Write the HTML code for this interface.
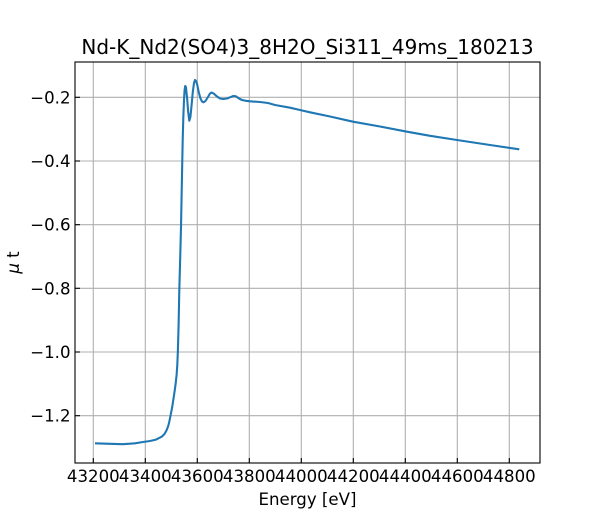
<!DOCTYPE html>
<html>
<head>
<meta charset="utf-8">
<style>
  html, body { margin:0; padding:0; background:#fff; }
  svg { display:block; }
  text { font-family: "DejaVu Sans", "Liberation Sans", sans-serif; fill:#000; }
</style>
</head>
<body>
<svg width="600" height="520" viewBox="0 0 600 520" xmlns="http://www.w3.org/2000/svg">
  <rect x="0" y="0" width="600" height="520" fill="#fff"/>
  <!-- grid -->
  <g stroke="#b0b0b0" stroke-width="1.1" fill="none">
    <line x1="93.3" y1="62" x2="93.3" y2="463"/>
    <line x1="145.3" y1="62" x2="145.3" y2="463"/>
    <line x1="197.3" y1="62" x2="197.3" y2="463"/>
    <line x1="249.3" y1="62" x2="249.3" y2="463"/>
    <line x1="301.3" y1="62" x2="301.3" y2="463"/>
    <line x1="353.3" y1="62" x2="353.3" y2="463"/>
    <line x1="405.3" y1="62" x2="405.3" y2="463"/>
    <line x1="457.3" y1="62" x2="457.3" y2="463"/>
    <line x1="509.3" y1="62" x2="509.3" y2="463"/>
    <line x1="75" y1="97.3" x2="540" y2="97.3"/>
    <line x1="75" y1="161" x2="540" y2="161"/>
    <line x1="75" y1="224.7" x2="540" y2="224.7"/>
    <line x1="75" y1="288.3" x2="540" y2="288.3"/>
    <line x1="75" y1="352" x2="540" y2="352"/>
    <line x1="75" y1="415.7" x2="540" y2="415.7"/>
  </g>
  <!-- data -->
  <path fill="none" stroke="#1f77b4" stroke-width="2.1" stroke-linejoin="round" stroke-linecap="butt"
    d="M95,443.3 L110,443.8 L123,444.2 L135,443.3 L143,442 L150,441 L156,439.6 L161.7,436.7 L164.5,434 L166.7,430 L168.2,426 L169.3,421.7 L171,413.3 L172.2,407 L173.3,400 L174.5,392 L175.7,383.3 L176.6,375 L177.3,365 L177.9,350 L178.6,325 L179.3,290 L180.2,258 L181,227 L182,175 L182.7,140 L183.3,118 L184,100 L184.6,90 L185.2,86 L185.9,87 L187,97 L188.2,112 L189.3,120.7 L190.4,117 L191.6,105 L192.8,92 L194,83 L195,80 L196.1,81 L197.3,85 L198.7,92 L200.5,98.5 L202,101.5 L203.5,102.3 L205.5,101 L208,97 L210,93.5 L211.7,92.5 L214,93.8 L217,96.5 L220,98.5 L223.3,99 L227,98.5 L230,97.3 L233.3,96 L236,96.3 L239,98.5 L242,100 L246,100.8 L250,101.3 L260,102 L268,103 L275,105 L290,107.7 L300,110 L310,112.3 L330,116.5 L353,121.7 L380,126.5 L407,131.7 L430,135.8 L457,140 L490,145 L519.3,149.3"/>
  <!-- ticks -->
  <g stroke="#000" stroke-width="1.1">
    <line x1="93.3" y1="463" x2="93.3" y2="458"/>
    <line x1="145.3" y1="463" x2="145.3" y2="458"/>
    <line x1="197.3" y1="463" x2="197.3" y2="458"/>
    <line x1="249.3" y1="463" x2="249.3" y2="458"/>
    <line x1="301.3" y1="463" x2="301.3" y2="458"/>
    <line x1="353.3" y1="463" x2="353.3" y2="458"/>
    <line x1="405.3" y1="463" x2="405.3" y2="458"/>
    <line x1="457.3" y1="463" x2="457.3" y2="458"/>
    <line x1="509.3" y1="463" x2="509.3" y2="458"/>
    <line x1="75" y1="97.3" x2="80" y2="97.3"/>
    <line x1="75" y1="161" x2="80" y2="161"/>
    <line x1="75" y1="224.7" x2="80" y2="224.7"/>
    <line x1="75" y1="288.3" x2="80" y2="288.3"/>
    <line x1="75" y1="352" x2="80" y2="352"/>
    <line x1="75" y1="415.7" x2="80" y2="415.7"/>
  </g>
  <!-- spines -->
  <rect x="75" y="62" width="465" height="401" fill="none" stroke="#000" stroke-width="1.1"/>
  <!-- x tick labels -->
  <g font-size="16.6" text-anchor="middle">
    <text x="93.3" y="482">43200</text>
    <text x="145.3" y="482">43400</text>
    <text x="197.3" y="482">43600</text>
    <text x="249.3" y="482">43800</text>
    <text x="301.3" y="482">44000</text>
    <text x="353.3" y="482">44200</text>
    <text x="405.3" y="482">44400</text>
    <text x="457.3" y="482">44600</text>
    <text x="509.3" y="482">44800</text>
  </g>
  <!-- y tick labels -->
  <g font-size="16.6" text-anchor="end">
    <text x="70.5" y="103.3">−0.2</text>
    <text x="70.5" y="167">−0.4</text>
    <text x="70.5" y="230.7">−0.6</text>
    <text x="70.5" y="294.3">−0.8</text>
    <text x="70.5" y="358">−1.0</text>
    <text x="70.5" y="421.7">−1.2</text>
  </g>
  <!-- labels -->
  <text x="307.5" y="54" font-size="20" text-anchor="middle">Nd-K_Nd2(SO4)3_8H2O_Si311_49ms_180213</text>
  <text x="307.5" y="505" font-size="16.6" text-anchor="middle">Energy [eV]</text>
  <text transform="translate(19,262.5) rotate(-90)" font-size="16.6" text-anchor="middle"><tspan font-style="italic">μ</tspan> t</text>
</svg>
</body>
</html>
